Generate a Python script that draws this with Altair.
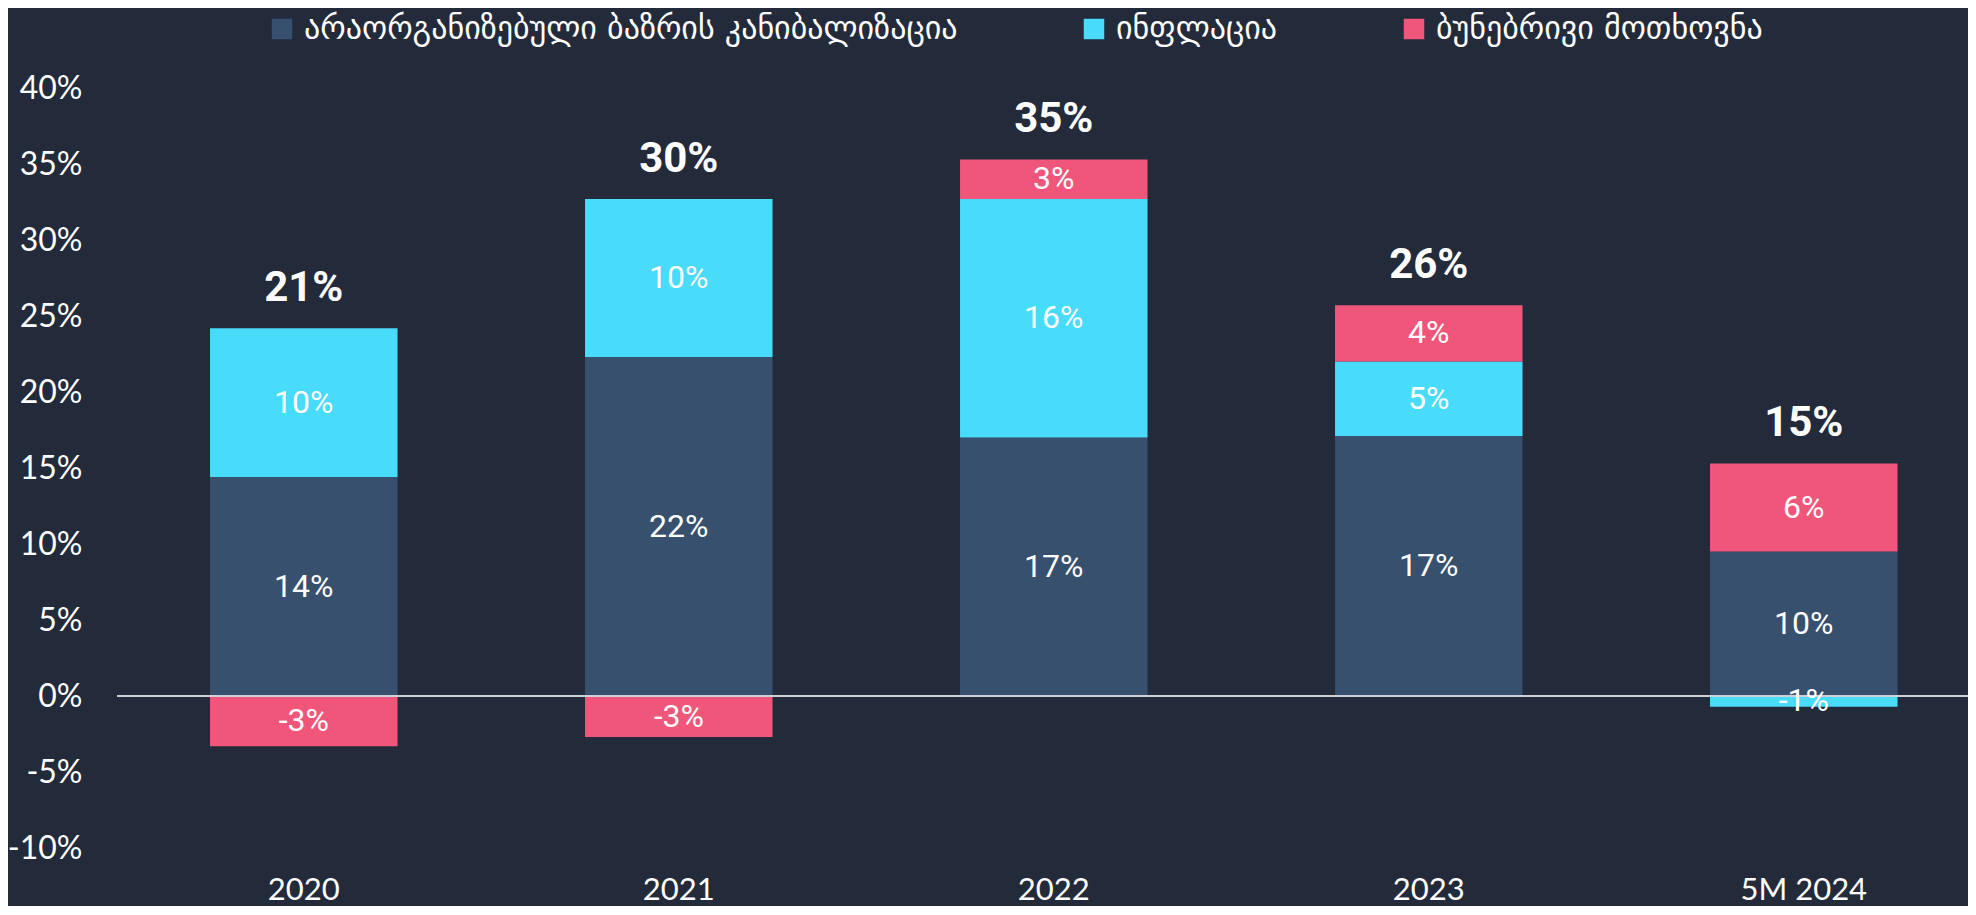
import altair as alt
import pandas as pd

years = ["2020", "2021", "2022", "2023", "5M 2024"]
series = ["არაორგანიზებული ბაზრის კანიბალიზაცია", "ინფლაცია", "ბუნებრივი მოთხოვნა"]
cannibalization = [14.4, 22.3, 17.0, 17.1, 9.5]
inflation = [9.8, 10.4, 15.7, 4.9, -0.7]
demand = [-3.3, -2.7, 2.6, 3.7, 5.8]
colors = ["#37506e", "#49dbfa", "#f0567a"]
y_ticks = [-10, -5, 0, 5, 10, 15, 20, 25, 30, 35, 40]

rows = []
for i, yr in enumerate(years):
    for k, (name, vals) in enumerate(zip(series, [cannibalization, inflation, demand])):
        rows.append({"year": yr, "series": name, "ord": k, "value": vals[i]})
df = pd.DataFrame(rows)

BG = "#232a3a"
NUM_FONT = "Lato"
BAR_FONT = "Roboto"

x_enc = alt.X(
    "year:N",
    sort=years,
    scale=alt.Scale(paddingInner=0.5, paddingOuter=0.218, align=0.569),
    axis=alt.Axis(
        title=None, labelAngle=0, domain=False, ticks=False, grid=False,
        labelFontSize=31, labelColor="white", labelFont=NUM_FONT,
        labelPadding=42, labelBaseline="middle",
    ),
)

base = alt.Chart(df)

stacked = base.transform_stack(
    stack="value", groupby=["year"], as_=["v0", "v1"],
    sort=[alt.SortField("ord", "ascending")],
).transform_calculate(
    mid="(datum.v0 + datum.v1) / 2",
    label="round(datum.value) + '%'",
)

bars = stacked.mark_bar().encode(
    x=x_enc,
    y=alt.Y(
        "v0:Q",
        scale=alt.Scale(domain=[-10, 40], nice=False, zero=False),
        axis=alt.Axis(
            values=y_ticks, labelExpr="datum.value + '%'", title=None,
            domain=False, ticks=False, grid=False, labelFontSize=32,
            labelColor="white", labelFont=NUM_FONT, labelPadding=35,
        ),
    ),
    y2="v1:Q",
    color=alt.Color(
        "series:N",
        scale=alt.Scale(domain=series, range=colors),
        sort=series,
        legend=alt.Legend(
            title=None, orient="none", legendX=149, legendY=-75,
            direction="horizontal", symbolType="square", symbolSize=420,
            symbolStrokeWidth=0, labelFontSize=32, labelColor="white",
            labelFont="DejaVu Sans", columnPadding=120, labelOffset=6,
            labelLimit=0,
        ),
    ),
    order=alt.Order("ord:Q"),
)

zero_rule = alt.Chart(df).mark_rule(color="#cdd1d6", strokeWidth=2).encode(
    y=alt.datum(0)
)

seg_text = stacked.mark_text(
    color="white", fontSize=32, font=BAR_FONT, baseline="middle", align="center"
).encode(
    x=alt.X("year:N", sort=years),
    y=alt.Y("mid:Q"),
    text="label:N",
)

totals = base.transform_calculate(
    pos="max(datum.value, 0)"
).transform_aggregate(
    possum="sum(pos)", total="sum(value)", groupby=["year"]
).transform_calculate(
    tlabel="round(datum.total) + '%'"
).mark_text(
    color="white", fontSize=42, font=BAR_FONT, fontWeight="bold",
    baseline="middle", align="center", dy=-40,
).encode(
    x=alt.X("year:N", sort=years),
    y=alt.Y("possum:Q"),
    text="tlabel:N",
)

chart = alt.layer(bars, zero_rule, seg_text, totals).properties(
    width=1851,
    height=760,
    padding={"left": 109, "top": 80, "right": 0, "bottom": 58},
    autosize=alt.AutoSizeParams(type="none"),
    background=BG,
).configure_view(stroke=None)

chart.save("out.html", embed_options={"renderer": "svg", "actions": False})
